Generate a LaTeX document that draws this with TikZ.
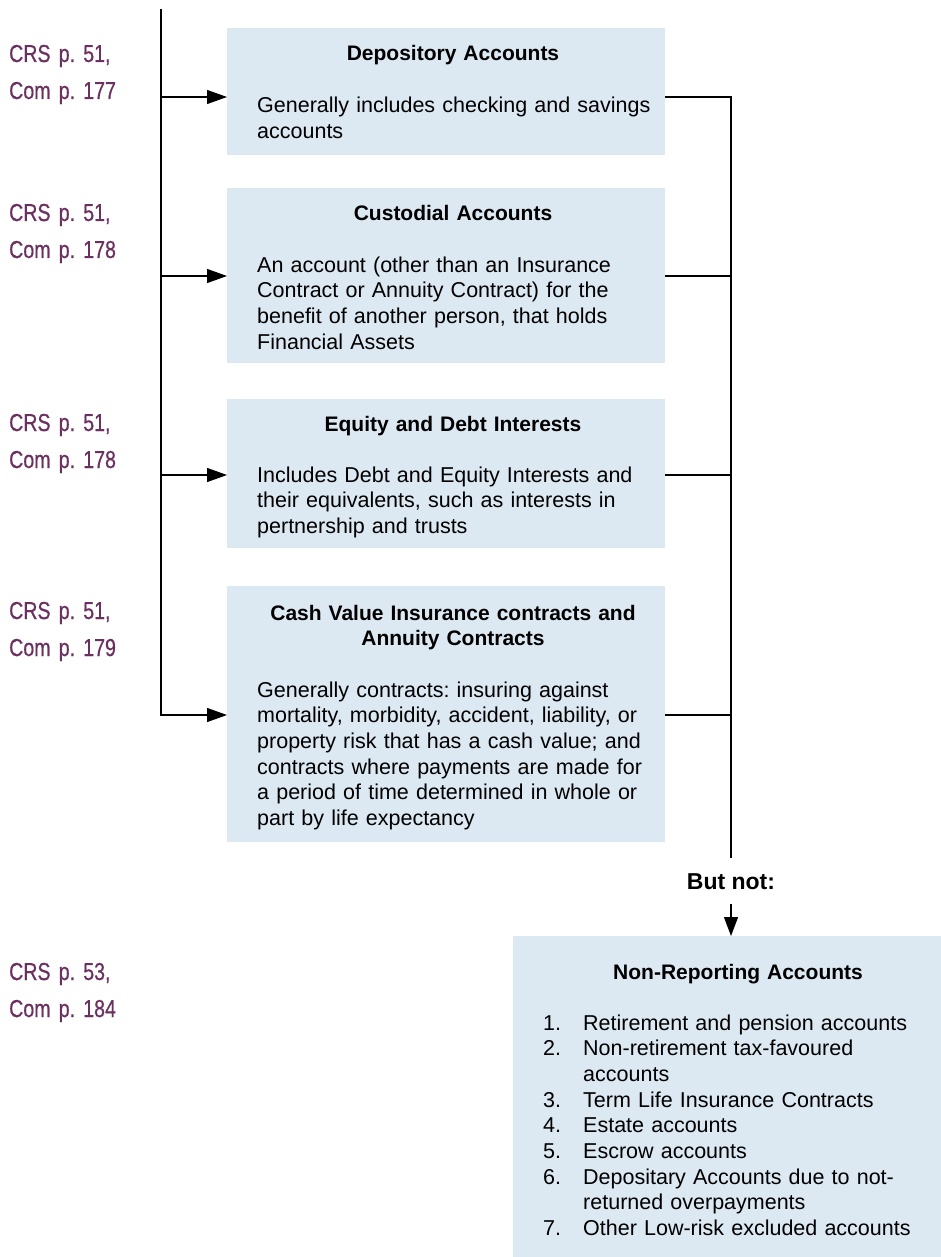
\documentclass[tikz,border=0pt]{standalone}
\usepackage{fontspec}
\setmainfont{Liberation Sans}
\newfontfamily\labelfont[FakeStretch=0.8,WordSpace=0.85,FakeBold=0.6]{Liberation Sans}
\usetikzlibrary{arrows.meta}
\definecolor{boxfill}{RGB}{220,232,242}
\definecolor{refpurple}{RGB}{107,48,96}
\begin{document}
\frenchspacing
\begin{tikzpicture}[x=1pt,y=-1pt,
  box/.style={fill=boxfill, draw=none, anchor=north west, inner sep=0pt, outer sep=0pt},
  bodytext/.style={anchor=base west, inner sep=0pt, text width=395pt, align=left,
    font=\fontsize{21.5}{25.7}\selectfont},
  titletext/.style={anchor=base, inner sep=0pt, text width=400pt, align=center,
    font=\bfseries\fontsize{21}{25.5}\selectfont},
  reflabel/.style={anchor=base west, inner sep=0pt, text width=150pt, align=left,
    text=refpurple, font=\labelfont\fontsize{24.5}{37}\selectfont},
  conn/.style={line width=1.2pt, draw=black},
  arr/.style={conn, -{Triangle[length=20pt,width=14pt]}}
]
\useasboundingbox (0,0) rectangle (941,1257);

% boxes
\node[box, minimum width=438pt, minimum height=127pt] (b1) at (227,28) {};
\node[box, minimum width=438pt, minimum height=175pt] (b2) at (227,188) {};
\node[box, minimum width=438pt, minimum height=149pt] (b3) at (227,399) {};
\node[box, minimum width=438pt, minimum height=256pt] (b4) at (227,586) {};
\node[box, minimum width=428pt, minimum height=321pt] (b5) at (513,936) {};

% box texts
\node[titletext] (t1) at (453,61) {Depository Accounts};
\node[bodytext] (x1) at (257,113) {Generally includes checking and savings\\accounts};

\node[titletext] (t2) at (453,221) {Custodial Accounts};
\node[bodytext] (x2) at (257,272) {An account (other than an Insurance\\Contract or Annuity Contract) for the\\benefit of another person, that holds\\Financial Assets};

\node[titletext] (t3) at (453,431) {Equity and Debt Interests};
\node[bodytext] (x3) at (257,482) {Includes Debt and Equity Interests and\\their equivalents, such as interests in\\pertnership and trusts};

\node[titletext] (t4) at (453,620) {Cash Value Insurance contracts and\\Annuity Contracts};
\node[bodytext] (x4) at (257,697) {Generally contracts: insuring against\\mortality, morbidity, accident, liability, or\\property risk that has a cash value; and\\contracts where payments are made for\\a period of time determined in whole or\\part by life expectancy};

\node[titletext] (t5) at (738,979) {Non-Reporting Accounts};
\node[bodytext, text width=390pt] (x5) at (543,1030) {%
\makebox[40pt][l]{1.}Retirement and pension accounts\\
\makebox[40pt][l]{2.}Non-retirement tax-favoured\\
\hspace*{40pt}accounts\\
\makebox[40pt][l]{3.}Term Life Insurance Contracts\\
\makebox[40pt][l]{4.}Estate accounts\\
\makebox[40pt][l]{5.}Escrow accounts\\
\makebox[40pt][l]{6.}Depositary Accounts due to not-\\
\hspace*{40pt}returned overpayments\\
\makebox[40pt][l]{7.}Other Low-risk excluded accounts};

% reference labels
\node[reflabel] (l1) at (9,62) {CRS p. 51,\\Com p. 177};
\node[reflabel] (l2) at (9,221) {CRS p. 51,\\Com p. 178};
\node[reflabel] (l3) at (9,431) {CRS p. 51,\\Com p. 178};
\node[reflabel] (l4) at (9,619) {CRS p. 51,\\Com p. 179};
\node[reflabel] (l5) at (9,980) {CRS p. 53,\\Com p. 184};

% left trunk and arrows
\coordinate (Ltop) at (161,9);
\coordinate (L1) at (161,97);
\coordinate (L2) at (161,276);
\coordinate (L3) at (161,475);
\coordinate (L4) at (161,715);
\draw[arr] (Ltop) -- (L4) -- (L4 -| b4.west);
\draw[arr] (L1) -- (L1 -| b1.west);
\draw[arr] (L2) -- (L2 -| b2.west);
\draw[arr] (L3) -- (L3 -| b3.west);

% right trunk
\coordinate (R1) at (731,97);
\coordinate (R2) at (731,276);
\coordinate (R3) at (731,475);
\coordinate (R4) at (731,715);
\coordinate (Rbot) at (731,858);
\draw[conn] (b1.east |- R1) -- (R1) -- (Rbot);
\draw[conn] (b2.east |- R2) -- (R2);
\draw[conn] (b3.east |- R3) -- (R3);
\draw[conn] (b4.east |- R4) -- (R4);

\node[inner sep=0pt, font=\bfseries\fontsize{23}{27}\selectfont] (bn) at (731,882) {But not:};
\coordinate (D) at (731,904);
\draw[conn, -{Triangle[length=19pt,width=14pt]}] (D) -- (D |- b5.north);
\end{tikzpicture}
\end{document}
